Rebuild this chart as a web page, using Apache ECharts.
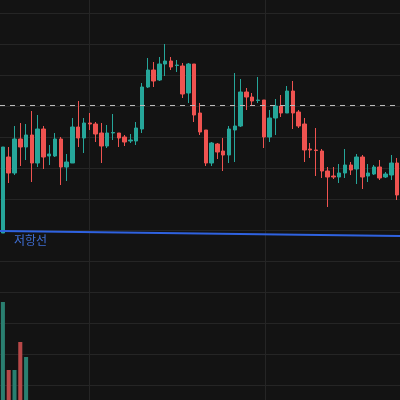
<!DOCTYPE html>
<html><head><meta charset="utf-8">
<script src="https://cdn.jsdelivr.net/npm/echarts@6/dist/echarts.min.js"></script>
<style>html,body{margin:0;padding:0;background:#131313}#c{width:400px;height:400px}</style>
</head><body><div id="c"></div>
<script>
const opens  = [167,243,227,261,253,265,237,271,244,244,261,233,237,273,262,277,276,267,254,267,267,263,259,259,271,313,330,320,336,339,334.5,334,307,336,287,270,237,256,249,245,270,274,308,303,299.5,300,263,282,294,287,309,288,276,251,250,249,229,224,223,227,235,231,243,224,226,233,223,225,237];
const closes = [253,227,261,253,265,237,271,243,246,261,233,238,273,262,277,276,266,254,267,267.5,262,258,260,272,313,330,319,336,339,333,335,306,336,285,268,237,257,248,245,271,274,308,303,299,300,263,282,294,287,309,287,274,250,250,249.5,229,223,223,227,235,230,243,223,227,233,222,226,237,205];
const lows   = [167,217,225,234,240,218,233,231,235,243,215,219,237,253,247,270,258,237,252,260,253,254,257,255,267,312,313,319,324,330,328,302,297,278,265,234,234,241,229,237,238,273,290,295,297,252,258,265,283,287,271,272,238,242,224,222,193,221,217,222,225,216,211,218,225,220,222,220,200];
const highs  = [253,253,274,277,276,289,285,274,255,267,263,246,282,299,282,287,278,277,275,286,267,265,266,278,317,342,338,343,356,343,340,337,337,336,297,270,258,257,262,274,327,321,312,307,323,300,290,301,305,314,319,290,282,257,272,251,233,233,236,251,238,246,245,236,235,240,228,245,242];
const volumes = [98,30,30,58,43];
const resistance = [169,164];
const refLevel = 295;
const UP='#26a69a', DOWN='#ef5350';

const cats = opens.map((_, i) => i);
const candle = opens.map((o, i) => [o, closes[i], lows[i], highs[i]]);
const vol = cats.map(i => i < volumes.length ? {value: volumes[i], itemStyle:{color: closes[i] >= opens[i] ? '#2a7f70' : '#b84848'}} : '-');
const gridLine = {lineStyle:{color:'#252525',width:1}};

const chart = echarts.init(document.getElementById('c'));
chart.setOption({
  backgroundColor:'#131313',
  animation:false,
  grid:[
    {left:0,right:0,top:0,bottom:0},
    {left:0,right:0,top:290,bottom:0},
    {left:0,right:0,top:13,bottom:15},
    {left:0,right:0,top:0,bottom:0},
    {left:89,right:135,top:0,bottom:0}
  ],
  xAxis:[
    {type:'category',data:cats,gridIndex:0,show:false,boundaryGap:true},
    {type:'category',data:cats,gridIndex:1,show:false,boundaryGap:true},
    {type:'value',gridIndex:2,min:0,max:1,show:false},
    {type:'value',gridIndex:3,min:0,max:1,show:false},
    {type:'value',gridIndex:4,min:0,max:176,interval:176,axisLine:{show:false},axisTick:{show:false},axisLabel:{show:false},splitLine:gridLine}
  ],
  yAxis:[
    {type:'value',gridIndex:0,min:0,max:400,show:false},
    {type:'value',gridIndex:1,min:0,max:110,show:false},
    {type:'value',gridIndex:2,min:0,max:372,interval:31,axisLine:{show:false},axisTick:{show:false},axisLabel:{show:false},splitLine:gridLine},
    {type:'value',gridIndex:3,min:0,max:400,show:false},
    {type:'value',gridIndex:4,min:0,max:1,show:false}
  ],
  graphic:[{type:'text',left:14,top:234,style:{text:'저항선',fill:'#3f6fd6',font:'12px "Noto Sans CJK KR"'}}],
  series:[
    {type:'candlestick',xAxisIndex:0,yAxisIndex:0,data:candle,barWidth:'68%',
     itemStyle:{color:UP,color0:DOWN,borderColor:UP,borderColor0:DOWN,borderWidth:1},
     markLine:{symbol:'none',silent:true,label:{show:false},
       lineStyle:{color:'#bbbbbb',type:[5,5],width:1},data:[{yAxis:refLevel}]}},
    {type:'bar',xAxisIndex:1,yAxisIndex:1,data:vol,barWidth:'70%'},
    {type:'line',xAxisIndex:3,yAxisIndex:3,data:[[0,resistance[0]],[1,resistance[1]]],symbol:'none',
     lineStyle:{color:'#2f62e0',width:2}}
  ]
});
</script></body></html>
